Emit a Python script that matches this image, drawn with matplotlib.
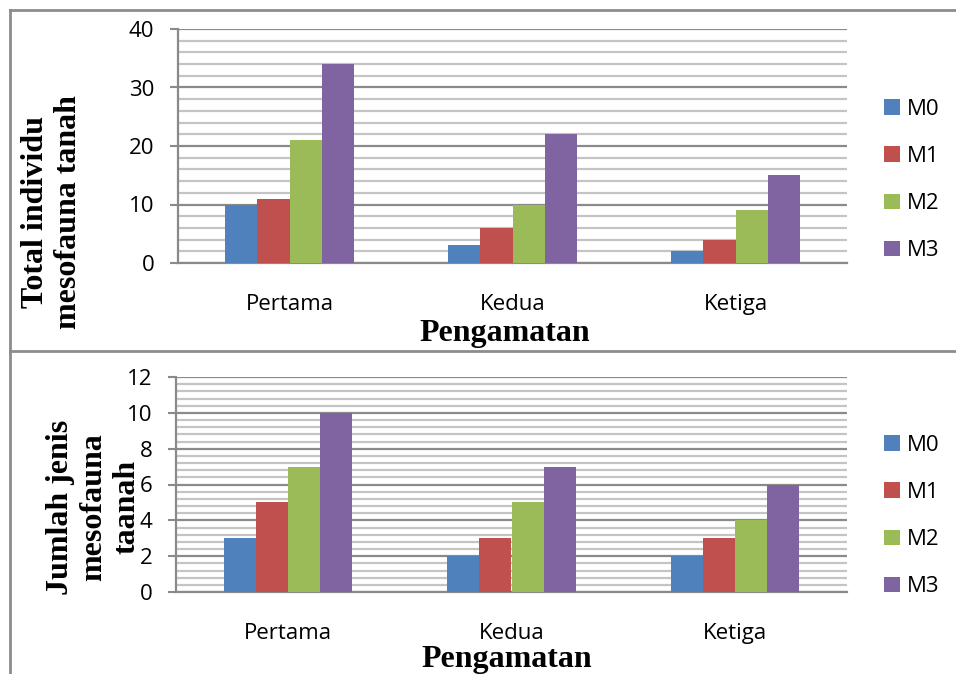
import numpy as np
import matplotlib
matplotlib.use("Agg")
import matplotlib.pyplot as plt
from matplotlib.lines import Line2D
from matplotlib.ticker import MultipleLocator

plt.rcParams['font.family'] = ['Open Sans', 'DejaVu Sans']

pengamatan = ["Pertama", "Kedua", "Ketiga"]
perlakuan = ["M0", "M1", "M2", "M3"]
warna = ["#4F81BD", "#C0504D", "#9BBB59", "#8064A2"]

# total individu per perlakuan (M0..M3) untuk tiap pengamatan
total_individu = {
    "M0": [10, 3, 2],
    "M1": [11, 6, 4],
    "M2": [21, 10, 9],
    "M3": [34, 22, 15],
}
# jumlah jenis per perlakuan
jumlah_jenis = {
    "M0": [3, 2, 2],
    "M1": [5, 3, 3],
    "M2": [7, 5, 4],
    "M3": [10, 7, 6],
}

W, H = 956, 674
fig = plt.figure(figsize=(W / 100, H / 100), dpi=100)

serif = dict(family='Liberation Serif', fontweight='bold', fontsize=23)


def bikin_panel(rect, data, ymax, major, minor, legend_y):
    ax = fig.add_axes(rect)
    x = np.arange(len(pengamatan))
    w = 0.1435
    for i, m in enumerate(perlakuan):
        ax.bar(x + (i - 1.5) * w, data[m], width=w, color=warna[i],
               label=m, zorder=3)
    ax.set_xlim(-0.5, len(pengamatan) - 0.5)
    ax.set_ylim(0, ymax)
    ax.yaxis.set_major_locator(MultipleLocator(major))
    ax.yaxis.set_minor_locator(MultipleLocator(minor))
    ax.grid(axis='y', which='major', color='#8a8a8a', lw=1.6, zorder=1)
    ax.grid(axis='y', which='minor', color='#c4c4c4', lw=1.6, zorder=1)
    ax.set_xticks(x)
    ax.set_xticklabels(pengamatan, fontsize=16)
    ax.tick_params(axis='x', length=0, pad=22)
    ax.tick_params(axis='y', which='major', length=6, width=1.5,
                   color='#8a8a8a', labelsize=16, pad=11)
    ax.tick_params(axis='y', which='minor', length=0)
    for s in ['top', 'right']:
        ax.spines[s].set_visible(False)
    for s in ['left', 'bottom']:
        ax.spines[s].set_color('#8a8a8a')
        ax.spines[s].set_linewidth(1.6)
    ax.legend(loc='center left', bbox_to_anchor=(884 / W, 1 - legend_y / H),
              bbox_transform=fig.transFigure, frameon=False, fontsize=16,
              handlelength=0.7, handleheight=0.7, handletextpad=0.35,
              labelspacing=1.18, borderpad=0, borderaxespad=0)
    return ax


# panel atas: total individu
bikin_panel([178 / W, 1 - 263 / H, 669 / W, 234 / H],
            total_individu, 40, 10, 2, 180)
fig.text(52 / W, 1 - 212 / H, "Total individu\nmesofauna tanah",
         rotation=90, ha='center', va='center', multialignment='center',
         linespacing=1.2, **serif)
fig.text(505 / W, 1 - 333 / H, "Pengamatan", ha='center', va='center', **serif)

# panel bawah: jumlah jenis
bikin_panel([176 / W, 1 - 592 / H, 671 / W, 215 / H],
            jumlah_jenis, 12, 2, 0.4, 516)
fig.text(94 / W, 1 - 507 / H, "Jumlah jenis\nmesofauna\ntaanah",
         rotation=90, ha='center', va='center', multialignment='center',
         linespacing=1.2, **serif)
fig.text(507 / W, 1 - 659 / H, "Pengamatan", ha='center', va='center', **serif)

# garis tabel
garis = dict(color='#8c8c8c', lw=2, transform=fig.transFigure)
fig.add_artist(Line2D([10 / W, 1], [1 - 10 / H, 1 - 10 / H], **garis))
fig.add_artist(Line2D([10 / W, 1], [1 - 351 / H, 1 - 351 / H], **garis))
fig.add_artist(Line2D([10 / W, 10 / W], [0, 1 - 10 / H], **garis))

fig.savefig("out.png", dpi=100)
